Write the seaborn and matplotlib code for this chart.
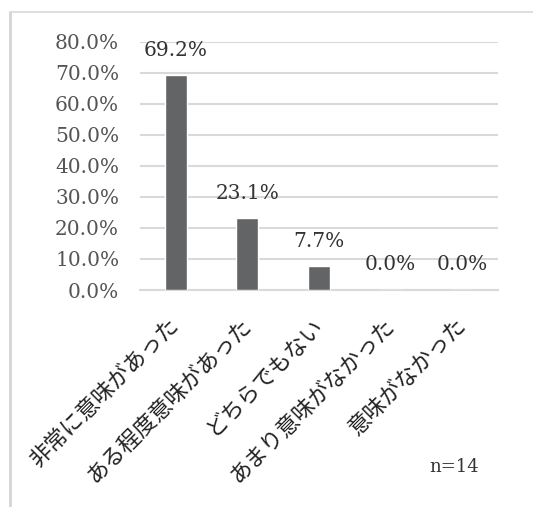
import matplotlib
matplotlib.use("Agg")
import matplotlib.pyplot as plt
from matplotlib.lines import Line2D
import seaborn as sns
import pandas as pd

# Survey responses (share of respondents, %)
categories = ["非常に意味があった", "ある程度意味があった", "どちらでもない",
              "あまり意味がなかった", "意味がなかった"]
shares = [69.2, 23.1, 7.7, 0.0, 0.0]
y_ticks = [0, 10, 20, 30, 40, 50, 60, 70, 80]
sample_note = "n=14"

df = pd.DataFrame({"category": categories, "share": shares})

sns.set_theme(style="white")
plt.rcParams["font.family"] = ["DejaVu Serif"]

W, H, DPI = 533, 507, 100
fig = plt.figure(figsize=(W / DPI, H / DPI), dpi=DPI)
ax = fig.add_axes([140 / W, 1 - 290 / H, 358 / W, (290 - 41.5) / H])

sns.barplot(data=df, x="category", y="share", color="#636466",
            saturation=1, width=0.31, ax=ax, zorder=3)

ax.set_ylim(0, 80)
ax.set_yticks(y_ticks)
ax.set_yticklabels([f"{v:.1f}%" for v in y_ticks], fontsize=14.5,
                   color="#555555")
ax.yaxis.grid(True, color="#d9d9d9", linewidth=1.5, zorder=0)
ax.set_axisbelow(True)
for s in ["left", "right", "top"]:
    ax.spines[s].set_visible(False)
ax.spines["bottom"].set_color("#d9d9d9")
ax.spines["bottom"].set_linewidth(1.5)
ax.tick_params(axis="y", length=0, pad=15)
ax.tick_params(axis="x", length=0, pad=23)
ax.set_xlabel("")
ax.set_ylabel("")

ax.set_xticks(range(len(categories)))
ax.set_xticklabels(categories, rotation=45, ha="right", va="center",
                   rotation_mode="anchor", fontsize=16, color="#222222",
                   family=["Noto Sans CJK JP", "DejaVu Sans"])

for i, v in enumerate(shares):
    ax.annotate(f"{v:.1f}%", xy=(i, v), xytext=(0, 18),
                textcoords="offset points", ha="center", va="center",
                fontsize=14.5, color="#333333")

fig.text(454 / W, 1 - 467 / H, sample_note, ha="center", va="center",
         fontsize=13, color="#333333")

# outer chart frame
fig.add_artist(Line2D([9.5 / W, 9.5 / W], [0, 1 - 12 / H],
                      transform=fig.transFigure, color="#d4d4d4", lw=2))
fig.add_artist(Line2D([9.5 / W, 1], [1 - 12 / H, 1 - 12 / H],
                      transform=fig.transFigure, color="#d9d9d9", lw=1.2))

fig.savefig("out.png", dpi=DPI, facecolor="white")
